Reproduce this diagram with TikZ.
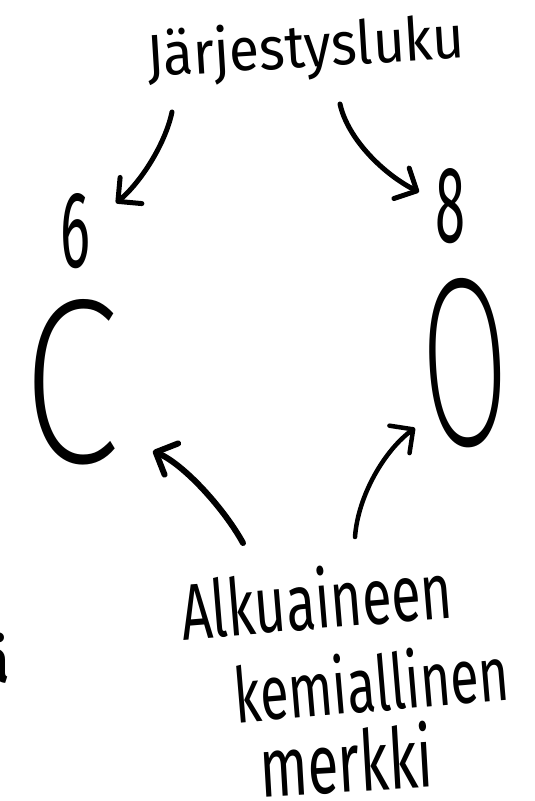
\documentclass[tikz,border=0pt]{standalone}
\usepackage{fontspec}
\usepackage{graphicx}
\usetikzlibrary{arrows.meta}
\newfontfamily\handfont{Fira Sans}
\IfFontExistsTF{Fira Sans ExtraLight}{\newfontfamily\thinfont{Fira Sans ExtraLight}}{\IfFontExistsTF{Fira Sans Thin}{\newfontfamily\thinfont{Fira Sans Thin}}{\newfontfamily\thinfont{Fira Sans}}}
\newfontfamily\capfont{Fira Sans}
\tikzset{
  hand/.style={inner sep=0pt, outer sep=0pt, font=\handfont},
  thin/.style={inner sep=0pt, outer sep=0pt, font=\thinfont},
  pointer/.style={line width=#1, line cap=round, line join=round,
    -{Straight Barb[length=17pt,width=34pt,line cap=round,line join=round]}},
  pointer/.default=5pt
}
\begin{document}
\begin{tikzpicture}[x=1pt,y=-1pt]
\fill[white] (0,0) rectangle (535,801);
\clip (0,0) rectangle (535,801);
\useasboundingbox (0,0) rectangle (535,801);

% labels
\node[hand, anchor=base west, rotate=3.5] (title) at (148,77) {\resizebox{318pt}{47pt}{Järjestysluku}};
\node[hand, anchor=base west] (six) at (60,267) {\resizebox{30pt}{74pt}{6}};
\node[hand, anchor=base west] (eight) at (435,242) {\resizebox{30pt}{74pt}{8}};
\node[thin, anchor=base west] (carbon) at (22,462) {\resizebox{97pt}{163pt}{C}};
\node[thin, anchor=base west, rotate=3] (oxygen) at (425,447) {\resizebox{88pt}{167pt}{O}};
\node[hand, anchor=base west, rotate=4.7] (l1) at (183,640) {\resizebox{272pt}{62pt}{Alkuaineen}};
\node[hand, anchor=base west, rotate=4.8] (l2) at (236,723) {\resizebox{276pt}{60pt}{kemiallinen}};
\node[hand, anchor=base west, rotate=3.3] (l3) at (261,797) {\resizebox{174pt}{66pt}{merkki}};
\node[inner sep=0pt, anchor=base east, font=\capfont\bfseries\fontsize{62}{62}\selectfont] (cut) at (10,682) {ä};

% connector ends
\coordinate (tlA) at (172,112);
\coordinate (tlB) at (116,203);
\coordinate (trA) at (340,104);
\coordinate (trB) at (419,192);
\coordinate (blA) at (243,543);
\coordinate (blB) at (153,451);
\coordinate (brA) at (355,537);
\coordinate (brB) at (415,428);

\draw[pointer] (tlA) .. controls (165,145) and (140,183) .. (tlB);
\draw[pointer] (trA) .. controls (348,140) and (385,175) .. (trB);
\draw[pointer=6pt] (blA) .. controls (225,510) and (185,465) .. (blB);
\draw[pointer=4.5pt] (brA) .. controls (358,495) and (385,450) .. (brB);
\end{tikzpicture}
\end{document}
